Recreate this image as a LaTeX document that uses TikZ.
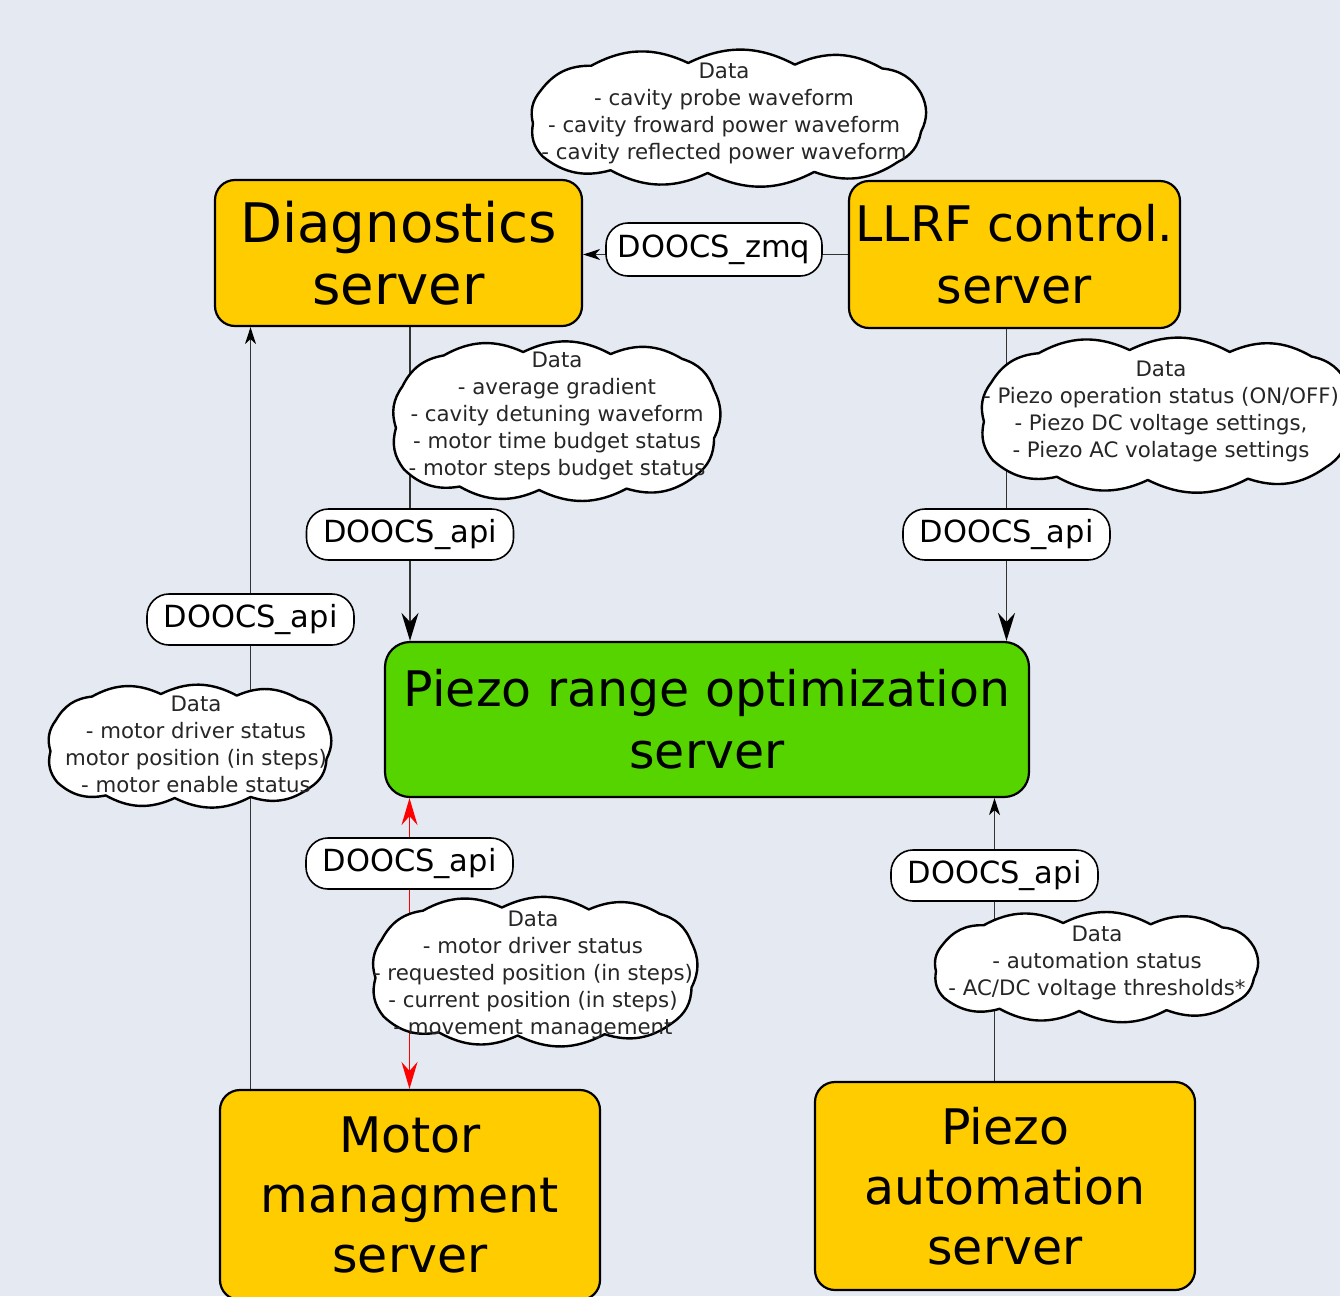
\documentclass[tikz,border=0pt]{standalone}
\usepackage{fontspec}
\setmainfont{DejaVu Sans}
\usetikzlibrary{arrows.meta}
\definecolor{bgblue}{RGB}{229,233,241}
\definecolor{srvyellow}{RGB}{255,204,0}
\definecolor{srvgreen}{RGB}{85,212,0}
\pgfdeclarelayer{back}
\pgfdeclarelayer{links}
\pgfsetlayers{back,links,main}
% cloud outline: centre x, centre y, half width, half height
\newcommand\datapuff[4]{%
  \draw[puffline,shift={(#1,#2)},x=#3pt,y=-#4pt]
    (1,-0.45) to[bend left=27] (1,0.25) to[bend left=27] (0.88,0.8)
    to[bend left=27] (0.45,0.98) to[bend left=27] (-0.1,1) to[bend left=27] (-0.6,0.95)
    to[bend left=27] (-0.95,0.7) to[bend left=27] (-1,0.1) to[bend left=27] (-0.96,-0.5)
    to[bend left=27] (-0.7,-0.95) to[bend left=27] (-0.2,-1) to[bend left=27] (0.35,-0.97)
    to[bend left=27] (0.8,-0.9) to[bend left=27] cycle;}

\begin{document}
\begin{tikzpicture}[x=1pt,y=-1pt,
  server/.style={draw,line width=2.2pt,fill=srvyellow,rounded corners=20pt,
    align=center,font=\fontsize{49}{60}\selectfont,inner sep=0pt},
  api/.style={draw,line width=1.6pt,fill=white,rounded corners=22pt,
    font=\fontsize{30.5}{30}\selectfont,minimum width=207pt,minimum height=51pt,inner sep=0pt},
  puffline/.style={draw,line width=2.4pt,fill=white,line join=round},
  datatext/.style={align=center,font=\fontsize{21.3}{27}\selectfont,inner sep=0pt,text=black!85},
  link/.style={line width=1.5pt,draw=black!80},
  bigtip/.style={-{Stealth[length=28pt,width=17pt,inset=9pt,black]}},
  smalltip/.style={-{Stealth[length=17pt,width=11pt,inset=5pt,black]}},
  redlink/.style={line width=1.5pt,draw=red,
    {Stealth[length=27pt,width=16pt,inset=9pt]}-{Stealth[length=27pt,width=16pt,inset=9pt]}}]

\begin{pgfonlayer}{back}
\fill[bgblue] (0,0) rectangle (1340,1296);
\end{pgfonlayer}
\useasboundingbox (0,0) rectangle (1340,1296);
\clip (0,0) rectangle (1340,1296);

% Servers
\node[server,font=\fontsize{54.5}{62}\selectfont,minimum width=367pt,minimum height=146pt] (diag) at (398.5,253) {Diagnostics\\server};
\node[server,font=\fontsize{49}{62}\selectfont,minimum width=331pt,minimum height=147pt] (llrf) at (1014.5,254.5) {LLRF control.\\server};
\node[server,font=\fontsize{49}{62}\selectfont,fill=srvgreen,rounded corners=25pt,minimum width=644pt,minimum height=155pt] (piezo) at (707,719.5) {Piezo range optimization\\server};
\node[server,minimum width=380pt,minimum height=210pt] (motor) at (410,1195) {Motor\\managment\\server};
\node[server,minimum width=380pt,minimum height=208pt] (autom) at (1005,1186) {Piezo\\automation\\server};

% Data clouds
\datapuff{727}{118}{194}{55}
\node[datatext] (tx1) at (724,113) {Data\\- cavity probe waveform\\- cavity froward power waveform\\- cavity reflected power waveform};
\datapuff{555}{421}{159}{69}
\node[datatext] (tx2) at (557,416) {Data\\- average gradient\\- cavity detuning waveform\\- motor time budget status\\- motor steps budget status};
\datapuff{1166}{415}{182}{65}
\node[datatext] (tx3) at (1161,411.5) {Data\\- Piezo operation status (ON/OFF)\\- Piezo DC voltage settings,\\- Piezo AC volatage settings};
\datapuff{188.5}{746}{138}{52}
\node[datatext] (tx4) at (196,744) {Data\\- motor driver status\\motor position (in steps)\\- motor enable status};
\datapuff{533.5}{971.5}{158}{64}
\node[datatext] (tx5) at (533,974.5) {Data\\- motor driver status\\- requested position (in steps)\\- current position (in steps)\\- movement management};
\datapuff{1095}{967}{159}{44}
\node[datatext] (tx6) at (1097,963) {Data\\- automation status\\- AC/DC voltage thresholds*};

% Interfaces
\node[api,minimum width=216pt,minimum height=53pt] (zmq) at (714,249.5) {DOOCS\_zmq};
\node[api] (api1) at (410,534.5) {DOOCS\_api};
\node[api] (api2) at (1006.5,534.5) {DOOCS\_api};
\node[api] (api3) at (250.5,619.5) {DOOCS\_api};
\node[api] (api4) at (409.5,863.5) {DOOCS\_api};
\node[api] (api5) at (994.5,875.5) {DOOCS\_api};

% Connections
\begin{pgfonlayer}{links}
\draw[link,smalltip] (llrf.west) -- (llrf.west -| diag.east);
\draw[link,bigtip] (api1 |- diag.south) -- (api1 |- piezo.north);
\draw[link,bigtip] (api2 |- llrf.south) -- (api2 |- piezo.north);
\draw[link,smalltip] (api3 |- motor.north) -- (api3 |- diag.south);
\draw[redlink] (api4 |- piezo.south) -- (api4 |- motor.north);
\draw[link,smalltip] (api5 |- autom.north) -- (api5 |- piezo.south);
\end{pgfonlayer}
\end{tikzpicture}
\end{document}
